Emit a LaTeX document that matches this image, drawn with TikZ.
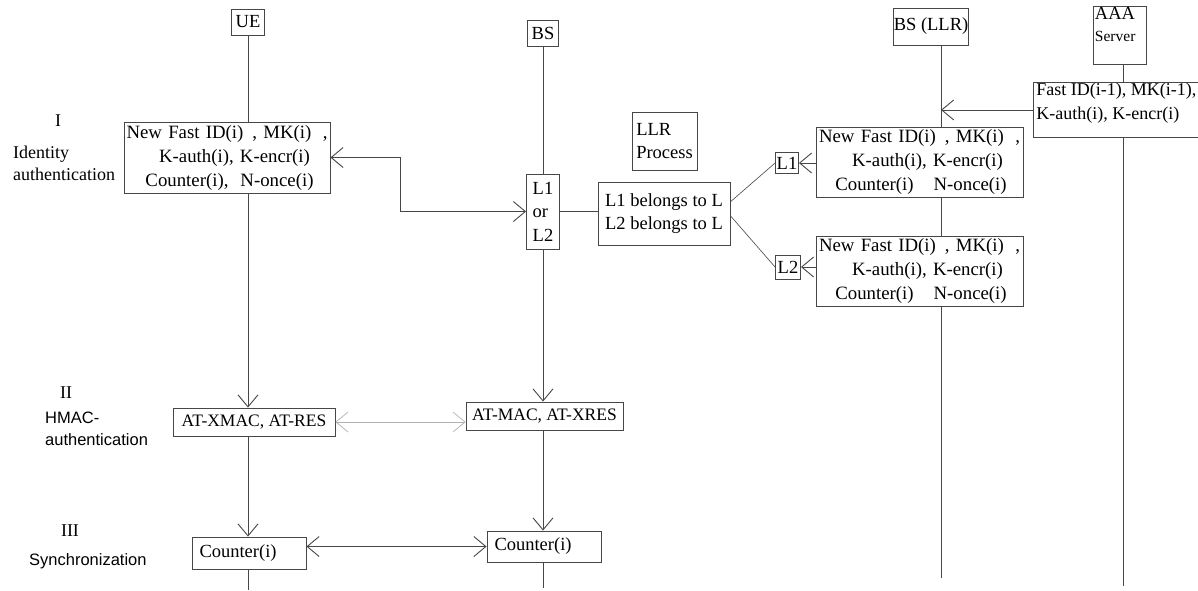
\documentclass[tikz,border=0pt]{standalone}
\usepackage{fontspec}
\setmainfont{Liberation Serif}
\newfontfamily\labelsans{Liberation Sans}
\usetikzlibrary{arrows.meta}

\newcommand\boxfont{\fontsize{18.5}{23.5}\selectfont}
\newcommand\keyfont{\fontsize{18.8}{24}\selectfont}
\newcommand\atfont{\fontsize{17.5}{22}\selectfont}
\newcommand\lblfont{\fontsize{18}{22}\selectfont}
\newcommand\sanslblfont{\labelsans\fontsize{16.5}{22}\selectfont}
% first line of a key set: the trailing comma sits at the right end
\newcommand\keyhead[1]{\makebox[#1][l]{New Fast ID(i)\hspace{9pt}, MK(i)\hfill,}}

\tikzset{
  line/.style={draw=black!72, line width=0.9pt},
  box/.style={line, rectangle, inner sep=0pt, font=\boxfont, align=center},
  keybox/.style={box, font=\keyfont},
  lbl/.style={inner sep=0pt, font=\lblfont},
  sanslbl/.style={inner sep=0pt, font=\sanslblfont},
  arr/.style={line, -{Straight Barb[length=12pt,width=20pt]}},
  both/.style={line, {Straight Barb[length=12pt,width=20pt]}-{Straight Barb[length=12pt,width=20pt]}},
  faint/.style={draw=black!30, line width=0.7pt}
}

\begin{document}
\begin{tikzpicture}[x=1pt,y=-1pt]
\useasboundingbox (0,0) rectangle (1198,590);
\fill[white] (0,0) rectangle (1198,590);
\clip (0,0) rectangle (1198,590);

% lifeline ends
\coordinate (ueend) at (248,590);
\coordinate (bsend) at (543,588);
\coordinate (llrend) at (941,578);
\coordinate (aaaend) at (1123,586);

% entity headers
\node[box, minimum width=33pt, minimum height=26pt] (ue) at (248,22) {UE};
\node[box, minimum width=31pt, minimum height=26pt] (bs) at (543,33) {BS};
\node[box, minimum width=72pt, minimum height=37pt] (bsllr) at (931,26.5) {BS (LLR)};
\node[box, anchor=north west, inner xsep=1.5pt, align=left] (aaa) at (1093,6)
  {\parbox[c][58pt][t]{50pt}{\vspace*{1pt}AAA\\[-2pt]{\fontsize{15.5}{17}\selectfont Server}}};

% phase labels
\node[lbl] (ph1) at (58,121) {I};
\node[lbl, anchor=west, align=left] (ph1t) at (13,163.5) {Identity\\authentication};
\node[lbl] (ph2) at (66,393) {II};
\node[sanslbl, anchor=west, align=left] (ph2t) at (45,429) {HMAC-\\authentication};
\node[lbl] (ph3) at (70,531) {III};
\node[sanslbl, anchor=west] (ph3t) at (29,561) {Synchronization};

% UE side
\node[keybox, minimum width=206pt, minimum height=71pt, text width=206pt] (ueinfo) at (227,157.5)
  {\keyhead{201pt}\\
   \hspace*{15pt}K-auth(i), K-encr(i)\\
   \hspace*{5pt}Counter(i),\hspace{12pt}N-once(i)};
\node[box, font=\atfont, minimum width=162pt, minimum height=28pt] (atx) at (254,422) {AT-XMAC, AT-RES};
\node[box, minimum width=114pt, minimum height=32pt, text width=99pt, inner xsep=7.5pt, align=left] (cnt1) at (249,553) {Counter(i)};

% BS side
\node[box, minimum width=33pt, minimum height=75pt, align=left] (lor) at (543,211.5) {L1\\or\\L2};
\node[box, font=\atfont, minimum width=157pt, minimum height=28pt] (atm) at (544.5,416) {AT-MAC, AT-XRES};
\node[box, minimum width=114pt, minimum height=31pt, text width=99pt, inner xsep=7.5pt, align=left] (cnt2) at (544,546.5) {Counter(i)};

% LLR process
\node[box, minimum width=65pt, minimum height=58pt, align=left] (llrproc) at (664.5,141) {LLR\\Process};
\node[box, minimum width=132pt, minimum height=63pt] (belongs) at (664,213.5) {L1 belongs to L\\L2 belongs to L};
\node[box, minimum width=23pt, minimum height=21pt] (l1) at (787,163) {L1};
\node[box, minimum width=25pt, minimum height=24pt] (l2) at (788,267) {L2};

% BS (LLR) key sets
\node[keybox, minimum width=207pt, minimum height=70pt, text width=207pt] (keys1) at (919.5,162)
  {\keyhead{201pt}\\
   \hspace*{16pt}K-auth(i), K-encr(i)\\
   \hspace*{3pt}Counter(i)\hspace{20pt}N-once(i)};
\node[keybox, minimum width=207pt, minimum height=70pt, text width=207pt] (keys2) at (919.5,271)
  {\keyhead{201pt}\\
   \hspace*{16pt}K-auth(i), K-encr(i)\\
   \hspace*{3pt}Counter(i)\hspace{20pt}N-once(i)};

% AAA server keys
\node[box, font=\fontsize{18}{24}\selectfont, anchor=north west, inner xsep=3pt, align=left] (aaainfo) at (1033,82)
  {\parbox[c][55pt][t]{172pt}{\vspace*{1pt}Fast ID(i-1), MK(i-1),\\K-auth(i), K-encr(i)}};

% UE lifeline
\draw[line] (ue.south) -- (ue.south |- ueinfo.north);
\draw[arr] (ue.south |- ueinfo.south) -- (ue.south |- atx.north);
\draw[arr] (ue.south |- atx.south) -- (ue.south |- cnt1.north);
\draw[line] (ue.south |- cnt1.south) -- (ueend);

% BS lifeline
\draw[line] (bs.south) -- (lor.north);
\draw[arr] (lor.south) -- (lor.south |- atm.north);
\draw[arr] (lor.south |- atm.south) -- (lor.south |- cnt2.north);
\draw[line] (lor.south |- cnt2.south) -- (bsend);

% BS (LLR) lifeline
\draw[line] (llrend |- bsllr.south) -- (llrend |- keys1.north);
\draw[line] (llrend |- keys1.south) -- (llrend |- keys2.north);
\draw[line] (llrend |- keys2.south) -- (llrend);

% AAA lifeline
\draw[line] (aaaend |- aaa.south) -- (aaaend |- aaainfo.north);
\draw[line] (aaaend |- aaainfo.south) -- (aaaend);

% messages
\draw[arr] (aaainfo.west) -- (llrend |- aaainfo.west);
\draw[arr] (keys1.west |- l1.east) -- (l1.east);
\draw[arr] (keys2.west |- l2.east) -- (l2.east);
\draw[line, line width=0.6pt] (belongs.10) -- (l1.west);
\draw[line, line width=0.6pt] (belongs.-2) -- (l2.west);
\draw[line] (lor.east) -- (lor.east -| belongs.west);
\draw[both] (ueinfo.east) -- ++(70,0) |- (lor.west);
\draw[both, faint] (atx.east) -- (atx.east -| atm.west);
\draw[both] (cnt2.west -| cnt1.east) -- (cnt2.west);
\end{tikzpicture}
\end{document}
